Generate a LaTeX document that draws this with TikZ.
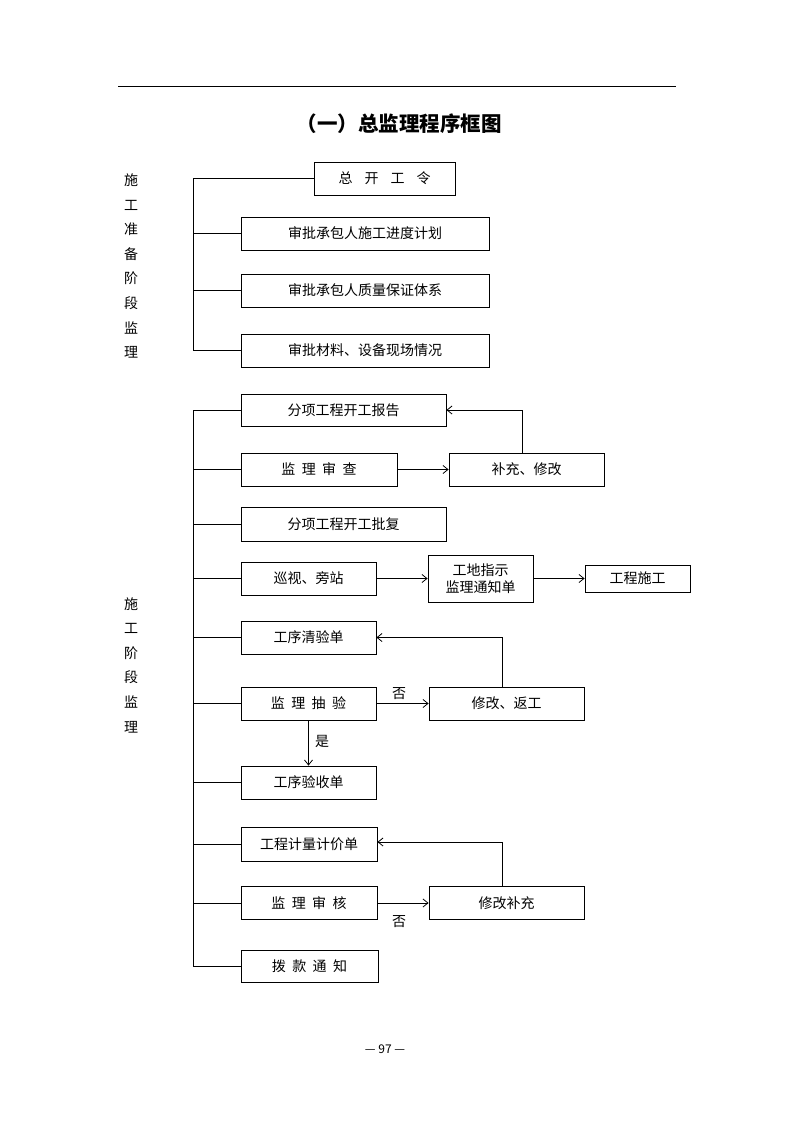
\documentclass[tikz,border=0pt]{standalone}
\usepackage{fontspec}
\setmainfont{Noto Sans CJK SC}
\usetikzlibrary{arrows.meta}
\newcommand{\zg}{\hspace{12pt}}
\newcommand{\zs}{\hspace{6.5pt}}
\begin{document}
\begin{tikzpicture}[x=1pt,y=-1pt,
  box/.style={draw,line width=0.8pt,inner sep=0pt,font=\fontsize{14}{16}\selectfont,align=center},
  ln/.style={line width=0.8pt},
  arr/.style={line width=0.8pt,-{Straight Barb[length=5pt,width=8pt]}},
  lbl/.style={inner sep=0pt,font=\fontsize{14}{16}\selectfont},
  side/.style={inner sep=0pt,align=center,font=\fontsize{14}{24.6}\selectfont}]
\useasboundingbox[fill=white] (0,0) rectangle (794,1123);
% header rule and title
\coordinate (hl) at (118,87);
\coordinate (hr) at (676,87);
\draw[line width=1pt] (hl) -- (hr);
\node[inner sep=0pt,font=\fontsize{20.5}{22}\selectfont\bfseries] (title) at (399,124) {（一）总监理程序框图};
% side labels
\node[side] (sideA) at (131,266) {施\\工\\准\\备\\阶\\段\\监\\理};
\node[side] (sideB) at (131,665) {施\\工\\阶\\段\\监\\理};
% section 1
\node[box,minimum width=141,minimum height=33] (zkgl) at (384.5,178.5) {总\zg 开\zg 工\zg 令};
\node[box,minimum width=248,minimum height=33] (b2) at (365,233.5) {审批承包人施工进度计划};
\node[box,minimum width=248,minimum height=33] (b3) at (365,290.5) {审批承包人质量保证体系};
\node[box,minimum width=248,minimum height=33] (b4) at (365,350.5) {审批材料、设备现场情况};
\coordinate (s1) at (193,178.5);
\draw[ln] (zkgl.west) -- (s1) -- (s1 |- b4.west) -- (b4.west);
\draw[ln] (s1 |- b2.west) -- (b2.west);
\draw[ln] (s1 |- b3.west) -- (b3.west);
% section 2
\node[box,minimum width=205,minimum height=32] (c1) at (343.5,410) {分项工程开工报告};
\node[box,minimum width=156,minimum height=33] (c2) at (319,469.5) {监\zs 理\zs 审\zs 查};
\node[box,minimum width=155,minimum height=33] (c2r) at (526.5,469.5) {补充、修改};
\node[box,minimum width=205,minimum height=34] (c3) at (343.5,524) {分项工程开工批复};
\node[box,minimum width=135,minimum height=33] (c4) at (308.5,578.5) {巡视、旁站};
\node[box,minimum width=105,minimum height=47,font=\fontsize{14}{16.5}\selectfont] (c4m) at (480.5,578.5) {工地指示\\监理通知单};
\node[box,minimum width=105,minimum height=27] (c4r) at (637.5,578.5) {工程施工};
\node[box,minimum width=135,minimum height=33] (c5) at (308.5,637.5) {工序清验单};
\node[box,minimum width=135,minimum height=33] (c6) at (308.5,703.5) {监\zs 理\zs 抽\zs 验};
\node[box,minimum width=155,minimum height=33] (c6r) at (506.5,703.5) {修改、返工};
\node[box,minimum width=135,minimum height=33] (c7) at (308.5,782.5) {工序验收单};
\node[box,minimum width=136,minimum height=34] (c8) at (309,844) {工程计量计价单};
\node[box,minimum width=136,minimum height=33] (c9) at (309,903) {监\zs 理\zs 审\zs 核};
\node[box,minimum width=155,minimum height=33] (c9r) at (506.5,903) {修改补充};
\node[box,minimum width=137,minimum height=32] (c10) at (309.5,966) {拨\zs 款\zs 通\zs 知};
\coordinate (s2) at (193,410);
\draw[ln] (c1.west) -- (s2) -- (s2 |- c10.west) -- (c10.west);
\foreach \n in {c2,c3,c4,c5,c6,c7,c8,c9}{
  \draw[ln] (s2 |- \n.west) -- (\n.west);
}
% arrows
\draw[arr] (c2.east) -- (c2r.west);
\draw[arr] ([xshift=-4.5pt]c2r.north) |- (c1.east);
\draw[arr] (c4.east) -- (c4m.west);
\draw[arr] (c4m.east) -- (c4r.west);
\draw[arr] ([xshift=-4.5pt]c6r.north) |- (c5.east);
\draw[arr] (c6.east) -- (c6r.west);
\draw[arr] (c6.south) -- (c7.north);
\draw[arr] ([xshift=-4pt]c9r.north) |- ([yshift=2pt]c8.east);
\draw[arr] (c9.east) -- (c9r.west);
% labels
\node[lbl] (no1) at (399,694) {否};
\node[lbl] (yes1) at (322,741) {是};
\node[lbl] (no2) at (399,922) {否};
% page number
\node[inner sep=0pt,font=\fontsize{12}{14}\selectfont] (pg) at (385,1049) {— 97 —};
\end{tikzpicture}
\end{document}
